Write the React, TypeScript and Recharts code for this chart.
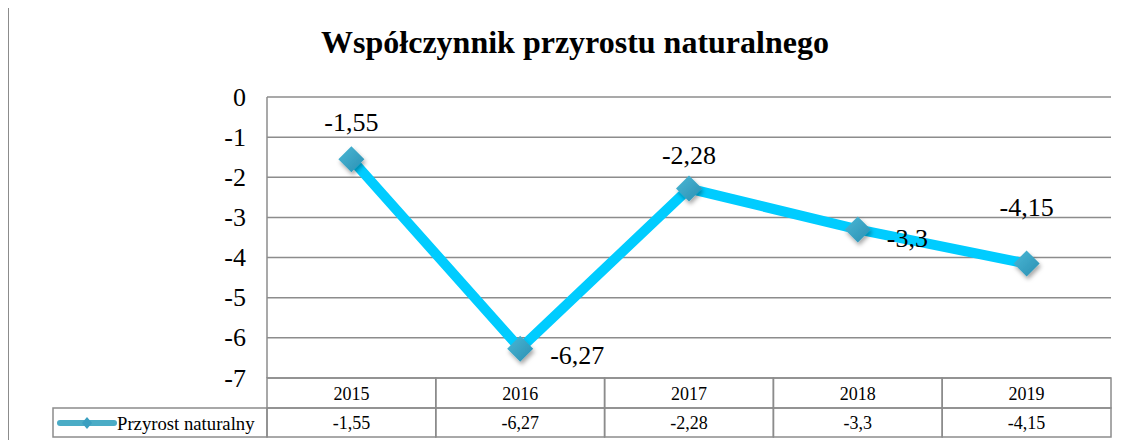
import React from "react";
import {
  LineChart,
  Line,
  XAxis,
  YAxis,
  CartesianGrid,
  LabelList,
} from "recharts";

const years = ["2015", "2016", "2017", "2018", "2019"];
const przyrost = [-1.55, -6.27, -2.28, -3.3, -4.15];
const yTicks = [0, -1, -2, -3, -4, -5, -6, -7];
const seriesName = "Przyrost naturalny";
const chartTitle = "Współczynnik przyrostu naturalnego";

// where each point label sits relative to its marker
const labelPlacement = [
  { dx: 0, dy: -37, anchor: "middle" },
  { dx: 30, dy: 7, anchor: "start" },
  { dx: 0, dy: -33, anchor: "middle" },
  { dx: 29, dy: 9, anchor: "start" },
  { dx: 0, dy: -56, anchor: "middle" },
];

const data = years.map((year, i) => ({ year, value: przyrost[i] }));

const FONT = "Liberation Serif, Times New Roman, serif";
const GRID = "#8c8c8c";
const BAND = 844 / 5;
const fmt = (v: number) => String(v).replace(".", ",");

const Diamond = ({ cx, cy, index }: any) => {
  if (cx == null || cy == null) return null;
  const r = 13;
  const id = `dg${index}`;
  return (
    <g>
      <defs>
        <linearGradient id={id} x1="0" y1="0" x2="1" y2="1">
          <stop offset="0%" stopColor="#4ab8d6" />
          <stop offset="100%" stopColor="#2b8fb2" />
        </linearGradient>
        <filter id={`sh${index}`} x="-50%" y="-50%" width="200%" height="200%">
          <feDropShadow dx="1.5" dy="3" stdDeviation="2" floodColor="#000" floodOpacity="0.35" />
        </filter>
      </defs>
      <polygon
        points={`${cx},${cy - r} ${cx + r},${cy} ${cx},${cy + r} ${cx - r},${cy}`}
        fill={`url(#${id})`}
        filter={`url(#sh${index})`}
      />
    </g>
  );
};

const PointLabel = ({ x, y, value, index }: any) => {
  const p = labelPlacement[index] || { dx: 0, dy: -35, anchor: "middle" };
  return (
    <text
      x={x + p.dx}
      y={y + p.dy}
      textAnchor={p.anchor}
      dominantBaseline="central"
      style={{ fontFamily: FONT, fontSize: 26 }}
      fill="#000"
    >
      {fmt(value)}
    </text>
  );
};

const YTick = ({ x, y, payload }: any) => (
  <text
    x={x - 13}
    y={y}
    textAnchor="end"
    dominantBaseline="central"
    style={{ fontFamily: FONT, fontSize: 26 }}
    fill="#000"
  >
    {payload.value}
  </text>
);

const TableTick = ({ x, y, payload, index }: any) => {
  const band = BAND;
  const left = x - band / 2;
  const rowH = 30;
  const txt = { fontFamily: FONT, fontSize: 18 };
  return (
    <g>
      <rect x={left} y={y} width={band} height={rowH} fill="none" stroke={GRID} strokeWidth={1.5} />
      <rect x={left} y={y + rowH} width={band} height={rowH - 1} fill="none" stroke={GRID} strokeWidth={1.5} />
      <text x={x} y={y + rowH / 2 + 1} textAnchor="middle" dominantBaseline="central" style={txt} fill="#000">
        {payload.value}
      </text>
      <text x={x} y={y + rowH * 1.5} textAnchor="middle" dominantBaseline="central" style={txt} fill="#000">
        {fmt(przyrost[index])}
      </text>
      {index === 0 && (
        <g>
          <rect x={53} y={y + rowH} width={left - 53} height={rowH - 1} fill="none" stroke={GRID} strokeWidth={1.5} />
          <line x1={60} y1={y + rowH * 1.5} x2={114} y2={y + rowH * 1.5} stroke="#4bacc6" strokeWidth={6} strokeLinecap="round" />
          <polygon
            points={`87,${y + rowH * 1.5 - 6} 92,${y + rowH * 1.5} 87,${y + rowH * 1.5 + 6} 82,${y + rowH * 1.5}`}
            fill="#3a9fc0"
          />
          <text x={117} y={y + rowH * 1.5} dominantBaseline="central" style={{ fontFamily: FONT, fontSize: 18.7 }} fill="#000">
            {seriesName}
          </text>
        </g>
      )}
    </g>
  );
};

export default function App() {
  return (
    <div style={{ position: "relative", width: 1128, height: 448, margin: -8, overflow: "hidden", background: "#fff" }}>
      <div
        style={{
          position: "absolute",
          left: 7,
          top: 5,
          width: 1200,
          height: 600,
          borderLeft: `2px solid ${GRID}`,
          borderTop: `2px solid ${GRID}`,
        }}
      />
      <div
        style={{
          position: "absolute",
          left: 0,
          width: 1150,
          top: 24,
          textAlign: "center",
          fontFamily: FONT,
          fontWeight: "bold",
          fontSize: 32,
          color: "#000",
        }}
      >
        {chartTitle}
      </div>
      <div style={{ position: "absolute", left: 0, top: 0 }}>
        <LineChart
          width={1128}
          height={448}
          data={data}
          margin={{ top: 97, right: 17, left: 207, bottom: 10 }}
        >
          <CartesianGrid vertical={false} stroke={GRID} strokeWidth={1.5} />
          <XAxis
            dataKey="year"
            axisLine={false}
            tickLine={false}
            tickSize={0}
            tickMargin={0}
            height={60}
            interval={0}
            padding={{ left: BAND / 2, right: BAND / 2 }}
            tick={<TableTick />}
          />
          <YAxis
            domain={[-7, 0]}
            ticks={yTicks}
            interval={0}
            width={60}
            axisLine={{ stroke: GRID, strokeWidth: 1.5 }}
            tickLine={false}
            tick={<YTick />}
          />
          <Line
            type="linear"
            dataKey="value"
            name={seriesName}
            stroke="#00ccff"
            strokeWidth={10}
            dot={<Diamond />}
            activeDot={false}
            isAnimationActive={false}
          >
            <LabelList dataKey="value" content={<PointLabel />} />
          </Line>
        </LineChart>
      </div>
    </div>
  );
}
